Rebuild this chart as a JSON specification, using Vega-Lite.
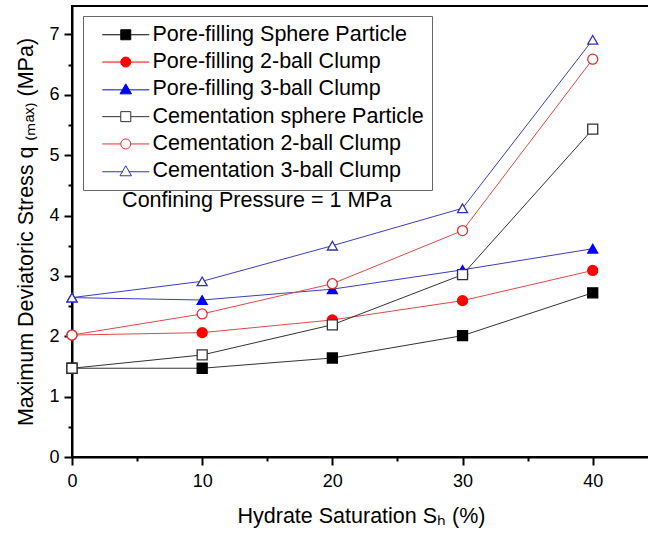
{
  "$schema": "https://vega.github.io/schema/vega-lite/v6.json",
  "width": 578,
  "height": 451,
  "autosize": {"type": "none"},
  "padding": {"left": 72, "top": 6, "right": 0, "bottom": 76},
  "background": "white",
  "config": {
    "font": "Liberation Sans",
    "view": {"stroke": "black", "strokeWidth": 2},
    "axis": {
      "domainColor": "black",
      "domainWidth": 2,
      "tickColor": "black",
      "tickWidth": 2,
      "labelColor": "black",
      "titleColor": "black",
      "labelFontSize": 18,
      "labelFlush": false,
      "titleFontSize": 21.5,
      "titleFontWeight": "normal",
      "grid": false
    }
  },
  "data": {
    "values": [
      {"series": "Pore-filling Sphere Particle", "sh": 0, "q": 1.47},
      {"series": "Pore-filling Sphere Particle", "sh": 10, "q": 1.47},
      {"series": "Pore-filling Sphere Particle", "sh": 20, "q": 1.64},
      {"series": "Pore-filling Sphere Particle", "sh": 30, "q": 2.01},
      {"series": "Pore-filling Sphere Particle", "sh": 40, "q": 2.72},
      {"series": "Pore-filling 2-ball Clump", "sh": 0, "q": 2.02},
      {"series": "Pore-filling 2-ball Clump", "sh": 10, "q": 2.06},
      {"series": "Pore-filling 2-ball Clump", "sh": 20, "q": 2.27},
      {"series": "Pore-filling 2-ball Clump", "sh": 30, "q": 2.59},
      {"series": "Pore-filling 2-ball Clump", "sh": 40, "q": 3.09},
      {"series": "Pore-filling 3-ball Clump", "sh": 0, "q": 2.64},
      {"series": "Pore-filling 3-ball Clump", "sh": 10, "q": 2.6},
      {"series": "Pore-filling 3-ball Clump", "sh": 20, "q": 2.78},
      {"series": "Pore-filling 3-ball Clump", "sh": 30, "q": 3.1},
      {"series": "Pore-filling 3-ball Clump", "sh": 40, "q": 3.45},
      {"series": "Cementation sphere Particle", "sh": 0, "q": 1.47},
      {"series": "Cementation sphere Particle", "sh": 10, "q": 1.69},
      {"series": "Cementation sphere Particle", "sh": 20, "q": 2.19},
      {"series": "Cementation sphere Particle", "sh": 30, "q": 3.02},
      {"series": "Cementation sphere Particle", "sh": 40, "q": 5.43},
      {"series": "Cementation 2-ball Clump", "sh": 0, "q": 2.02},
      {"series": "Cementation 2-ball Clump", "sh": 10, "q": 2.37},
      {"series": "Cementation 2-ball Clump", "sh": 20, "q": 2.87},
      {"series": "Cementation 2-ball Clump", "sh": 30, "q": 3.75},
      {"series": "Cementation 2-ball Clump", "sh": 40, "q": 6.59},
      {"series": "Cementation 3-ball Clump", "sh": 0, "q": 2.64},
      {"series": "Cementation 3-ball Clump", "sh": 10, "q": 2.91},
      {"series": "Cementation 3-ball Clump", "sh": 20, "q": 3.5},
      {"series": "Cementation 3-ball Clump", "sh": 30, "q": 4.12},
      {"series": "Cementation 3-ball Clump", "sh": 40, "q": 6.91}
    ]
  },
  "resolve": {"axis": {"x": "independent", "y": "independent"}},
  "layer": [
    {
      "mark": {"type": "line", "strokeWidth": 1},
      "encoding": {
        "x": {
          "field": "sh",
          "type": "quantitative",
          "scale": {"domain": [0, 44.4], "nice": false, "zero": false},
          "axis": {"orient": "bottom", "values": [5, 15, 25, 35], "labels": false, "tickSize": 4, "domain": false, "title": null}
        },
        "y": {
          "field": "q",
          "type": "quantitative",
          "scale": {"domain": [0, 7.47], "nice": false},
          "axis": {"orient": "left", "values": [0.5, 1.5, 2.5, 3.5, 4.5, 5.5, 6.5], "labels": false, "tickSize": 4, "domain": false, "title": null}
        },
        "color": {
          "field": "series",
          "type": "nominal",
          "scale": {
            "domain": ["Cementation 3-ball Clump", "Cementation 2-ball Clump", "Cementation sphere Particle", "Pore-filling 3-ball Clump", "Pore-filling 2-ball Clump", "Pore-filling Sphere Particle"],
            "range": ["#3c3cc0", "#e04848", "#333333", "#3c3cc0", "#e04848", "#333333"]
          },
          "legend": null
        }
      }
    },
    {
      "mark": {"type": "point", "filled": true, "size": 100, "opacity": 1, "strokeWidth": 1.3},
      "encoding": {
        "x": {
          "field": "sh",
          "type": "quantitative",
          "axis": {"orient": "bottom", "values": [0, 10, 20, 30, 40], "tickSize": 8, "labelPadding": 7, "title": "Hydrate Saturation Sₕ (%)", "titlePadding": 15}
        },
        "y": {
          "field": "q",
          "type": "quantitative",
          "axis": {"orient": "left", "values": [0, 1, 2, 3, 4, 5, 6, 7], "tickSize": 8, "labelPadding": 5, "title": "Maximum Deviatoric Stress q ₍ₘₐₓ₎ (MPa)", "titlePadding": 11}
        },
        "shape": {
          "field": "series",
          "type": "nominal",
          "scale": {
            "domain": ["Cementation 3-ball Clump", "Cementation 2-ball Clump", "Cementation sphere Particle", "Pore-filling 3-ball Clump", "Pore-filling 2-ball Clump", "Pore-filling Sphere Particle"],
            "range": ["triangle-up", "circle", "square", "triangle-up", "circle", "square"]
          },
          "legend": null
        },
        "fill": {
          "field": "series",
          "type": "nominal",
          "scale": {
            "domain": ["Pore-filling Sphere Particle", "Pore-filling 2-ball Clump", "Pore-filling 3-ball Clump", "Cementation sphere Particle", "Cementation 2-ball Clump", "Cementation 3-ball Clump"],
            "range": ["#000000", "#ff0000", "#0000ff", "#ffffff", "#ffffff", "#ffffff"]
          },
          "legend": {
            "title": null,
            "orient": "none",
            "legendX": 11,
            "legendY": 10,
            "padding": 8,
            "strokeColor": "#666666",
            "fillColor": "white",
            "rowPadding": 4.3,
            "labelFontSize": 21.5,
            "labelColor": "black",
            "labelLimit": 400,
            "symbolSize": 100,
            "symbolOffset": 24,
            "labelOffset": 16,
            "encoding": {
              "symbols": {
                "strokeWidth": {"value": 1},
                "shape": {
                  "value": {
                    "expr": "indexof(datum.value, 'phere') >= 0 ? 'M-4.7,0H-1M1,0H4.7M-1,-1H1V1H-1Z' : (indexof(datum.value, '2-ball') >= 0 ? 'M-4.7,0H-1M1,0H4.7M1,0A1,1 0 1,1 -1,0A1,1 0 1,1 1,0Z' : 'M-4.7,0.1H-0.6M0.6,0.1H4.7M0,-1.1L1.15,0.9H-1.15Z')"
                  }
                }
              }
            }
          }
        },
        "stroke": {
          "field": "series",
          "type": "nominal",
          "scale": {
            "domain": ["Pore-filling Sphere Particle", "Pore-filling 2-ball Clump", "Pore-filling 3-ball Clump", "Cementation sphere Particle", "Cementation 2-ball Clump", "Cementation 3-ball Clump"],
            "range": ["#000000", "#ff0000", "#0000ff", "#333333", "#e03030", "#3030c0"]
          }
        }
      }
    },
    {
      "data": {"values": [{"note": "Confining Pressure = 1 MPa"}]},
      "mark": {"type": "text", "fontSize": 21.5, "color": "black", "align": "center", "baseline": "middle"},
      "encoding": {
        "x": {"datum": 14.2, "type": "quantitative", "axis": null},
        "y": {"datum": 4.24, "type": "quantitative", "axis": null},
        "text": {"field": "note", "type": "nominal"}
      }
    }
  ]
}
